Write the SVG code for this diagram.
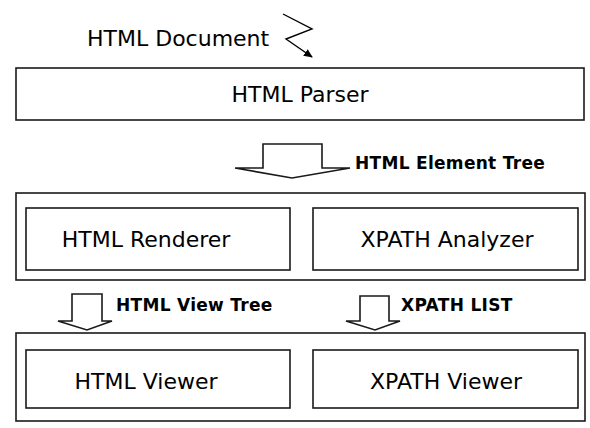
<svg xmlns="http://www.w3.org/2000/svg" width="590" height="428" viewBox="0 0 590 428">
<defs>
<marker id="ah" markerWidth="10" markerHeight="10" refX="8" refY="5" orient="auto" markerUnits="userSpaceOnUse">
<path d="M0,1 L9,5 L0,9 Z" fill="#000"/>
</marker>
<style>
.box{fill:#fff;stroke:#1a1a1a;stroke-width:1.6}
.outer{fill:#fff;stroke:#1a1a1a;stroke-width:1.6}
.t{font-family:"DejaVu Sans",Verdana,sans-serif;font-size:22px;fill:#000;text-anchor:middle}
.lbl{font-family:"DejaVu Sans",Verdana,sans-serif;font-size:17px;font-weight:bold;fill:#000;letter-spacing:0.3px}
.barrow{fill:#fff;stroke:#1a1a1a;stroke-width:1.6;stroke-linejoin:miter}
</style>
</defs>
<rect width="590" height="428" fill="#fff"/>

<g id="html-document">
<text x="87" y="46" class="t" style="text-anchor:start">HTML Document</text>
</g>

<g id="connectors">
<polyline points="283,14 312,29 286,39 312,57" fill="none" stroke="#000" stroke-width="1.4" marker-end="url(#ah)"/>
<polygon class="barrow" points="263,144 322,144 322,168 350,168 292,178 235,168 263,168"/>
<text x="355" y="169" class="lbl">HTML Element Tree</text>
<polygon class="barrow" points="72,294 102,294 102,321 112,321 87,330 58,321 72,321"/>
<text x="116" y="311" class="lbl">HTML View Tree</text>
<polygon class="barrow" points="360,296 389,296 389,321 400,321 375,330 346,321 360,321"/>
<text x="401" y="311" class="lbl">XPATH LIST</text>
</g>

<g id="html-parser">
<rect class="box" x="16" y="68" width="568" height="52"/>
<text x="300" y="102" class="t">HTML Parser</text>
</g>

<g id="analysis-layer">
<rect class="outer" x="16" y="193" width="569" height="87"/>
</g>
<g id="html-renderer">
<rect class="box" x="26" y="208" width="264" height="62"/>
<text x="146" y="247" class="t">HTML Renderer</text>
</g>
<g id="xpath-analyzer">
<rect class="box" x="313" y="208" width="265" height="62"/>
<text x="447" y="247" class="t">XPATH Analyzer</text>
</g>

<g id="viewer-layer">
<rect class="outer" x="16" y="333" width="569" height="88"/>
</g>
<g id="html-viewer">
<rect class="box" x="26" y="350" width="264" height="58"/>
<text x="146" y="389" class="t">HTML Viewer</text>
</g>
<g id="xpath-viewer">
<rect class="box" x="313" y="350" width="265" height="58"/>
<text x="446" y="389" class="t">XPATH Viewer</text>
</g>
</svg>
